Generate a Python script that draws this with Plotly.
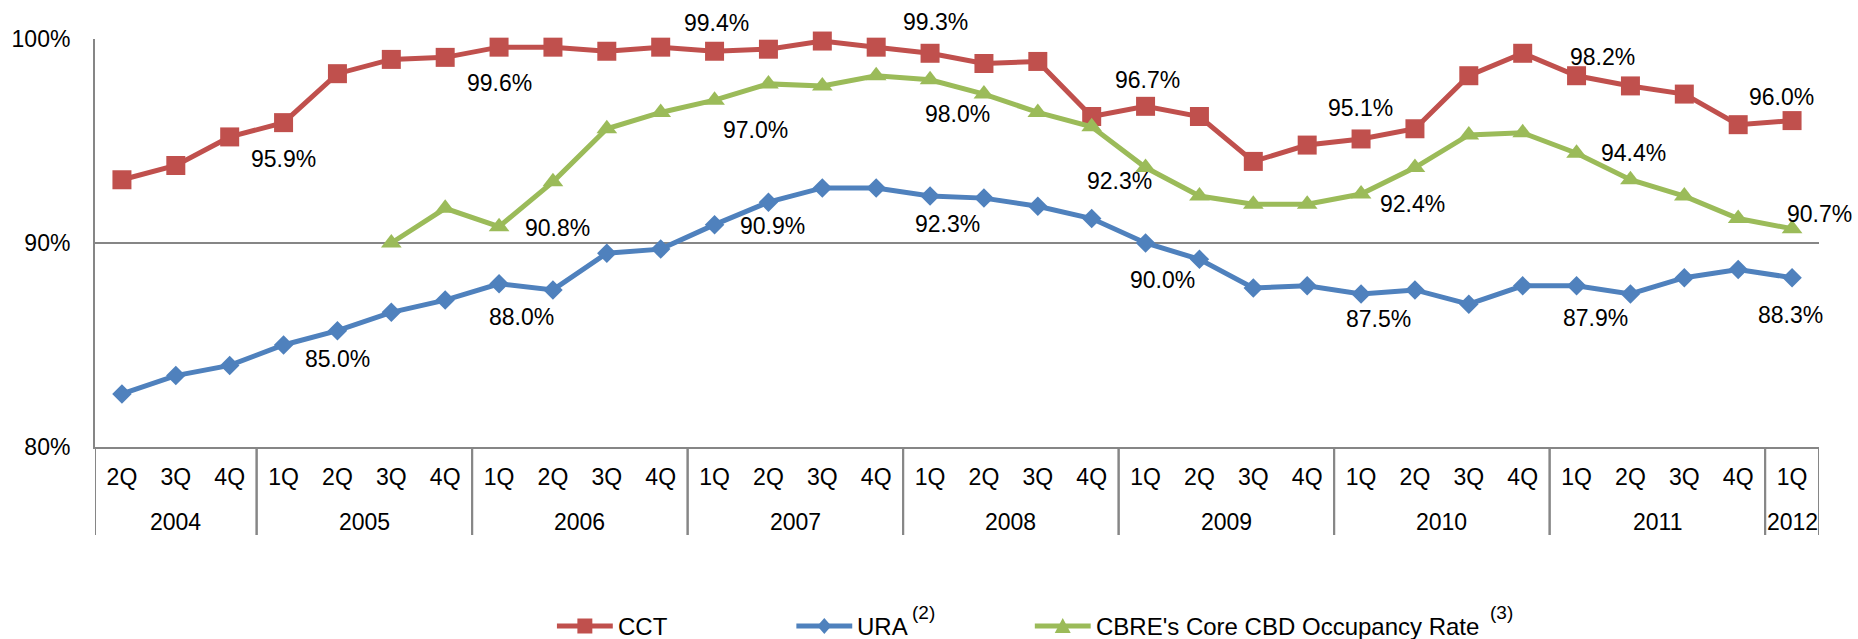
import plotly.graph_objects as go

# Quarter axis: 2Q 2004 through 1Q 2012
years = ["2004"] * 3 + [y for y in ["2005", "2006", "2007", "2008", "2009", "2010", "2011"] for _ in range(4)] + ["2012"]
quarters = ["2Q", "3Q", "4Q"] + ["1Q", "2Q", "3Q", "4Q"] * 7 + ["1Q"]

# Occupancy rates (%)
cct = [93.1, 93.8, 95.2,
       95.9, 98.3, 99.0, 99.1,
       99.6, 99.6, 99.4, 99.6,
       99.4, 99.5, 99.9, 99.6,
       99.3, 98.8, 98.9, 96.2,
       96.7, 96.2, 94.0, 94.8,
       95.1, 95.6, 98.2, 99.3,
       98.2, 97.7, 97.3, 95.8,
       96.0]
ura = [82.6, 83.5, 84.0,
       85.0, 85.7, 86.6, 87.2,
       88.0, 87.7, 89.5, 89.7,
       90.9, 92.0, 92.7, 92.7,
       92.3, 92.2, 91.8, 91.2,
       90.0, 89.2, 87.8, 87.9,
       87.5, 87.7, 87.0, 87.9,
       87.9, 87.5, 88.3, 88.7,
       88.3]
cbre = [None, None, None,
        None, None, 90.0, 91.7,
        90.8, 93.0, 95.6, 96.4,
        97.0, 97.8, 97.7, 98.2,
        98.0, 97.3, 96.4, 95.7,
        93.7, 92.3, 91.9, 91.9,
        92.4, 93.7, 95.3, 95.4,
        94.4, 93.1, 92.3, 91.2,
        90.7]

y_ticks = [80, 90, 100]
y_ticktext = ["80%", "90%", "100%"]

RED = "#C0504D"
BLUE = "#4F81BD"
GREEN = "#9BBB59"
GRID = "#868686"
FONT = "Liberation Sans, Arial, sans-serif"

W, H = 1858, 639
ML, MR, MT, MB = 91, 39, 39, 192
PW, PH = W - ML - MR, H - MT - MB

xpos = list(range(len(quarters)))

series = [
    dict(name="CCT", values=cct, color=RED, symbol="square", size=19),
    dict(name="URA", values=ura, color=BLUE, symbol="diamond", size=15),
    dict(name="CBRE", values=cbre, color=GREEN, symbol="triangle-up", size=18),
]

fig = go.Figure()
for s in series:
    fig.add_trace(go.Scatter(
        x=xpos, y=s["values"], mode="lines+markers", name=s["name"],
        customdata=[f"{q} {y}" for q, y in zip(quarters, years)],
        hovertemplate="%{customdata}: %{y:.1f}%<extra>" + s["name"] + "</extra>",
        line=dict(color=s["color"], width=5),
        marker=dict(symbol=s["symbol"], size=s["size"], color=s["color"],
                    line=dict(width=0)),
        cliponaxis=False, showlegend=False, connectgaps=False,
    ))

# Data-label placement: category index -> pixel offset (dx right, dy down)
label_offsets = {
    "CCT": {3: (0, 36), 7: (0, 36), 11: (2, -28), 15: (5, -31), 19: (2, -26),
            23: (-1, -31), 27: (26, -19), 31: (-11, -24)},
    "URA": {3: (54, 14), 7: (22, 33), 11: (58, 1), 15: (17, 28), 19: (17, 37),
            23: (17, 25), 27: (19, 32), 31: (-2, 37)},
    "CBRE": {7: (58, 1), 11: (41, 30), 15: (27, 34), 20: (-80, -15), 23: (51, 10),
             27: (57, 0), 31: (27, -15)},
}

annotations = []
for s in series:
    for i, (dx, dy) in label_offsets[s["name"]].items():
        v = s["values"][i]
        annotations.append(dict(
            x=xpos[i], y=v, xref="x", yref="y", text=f"{v:.1f}%", showarrow=False,
            xanchor="center", yanchor="middle", xshift=dx, yshift=-dy,
            font=dict(family=FONT, size=23, color="black"),
        ))


def px_x(px):
    return (px - ML) / PW


def px_y(py):
    return (H - MB - py) / PH


# Year groups under the quarter labels, separated by vertical dividers
groups = []
for i, y in enumerate(years):
    if not groups or groups[-1][0] != y:
        groups.append([y, i, i])
    else:
        groups[-1][2] = i

shapes = []
DIV_BOTTOM = 535
YEAR_Y = 522
for name, first, last in groups:
    annotations.append(dict(
        x=(first + last) / 2, y=px_y(YEAR_Y), xref="x", yref="paper", text=name,
        showarrow=False, xanchor="center", yanchor="middle",
        font=dict(family=FONT, size=23, color="black"),
    ))
    for edge in (first - 0.5, last + 0.5):
        shapes.append(dict(type="line", xref="x", yref="paper",
                           x0=edge, x1=edge, y0=0, y1=px_y(DIV_BOTTOM),
                           line=dict(color=GRID, width=2)))

# Legend drawn below the axis: line segment with marker, label, footnote mark
legend_items = [
    dict(x0=554, text="CCT", note=None, note_x=None, color=RED, marker="square"),
    dict(x0=794, text="URA", note="(2)", note_x=908, color=BLUE, marker="diamond"),
    dict(x0=1033, text="CBRE's Core CBD Occupancy Rate", note="(3)", note_x=1487,
         color=GREEN, marker="triangle"),
]
LEG_Y = 626
NOTE_Y = 612
for it in legend_items:
    x0, x1 = it["x0"], it["x0"] + 56
    xc = (x0 + x1) / 2
    shapes.append(dict(type="line", xref="paper", yref="paper",
                       x0=px_x(x0), x1=px_x(x1), y0=px_y(LEG_Y), y1=px_y(LEG_Y),
                       line=dict(color=it["color"], width=5)))
    if it["marker"] == "square":
        pts = [(xc - 7.5, LEG_Y - 7.5), (xc + 7.5, LEG_Y - 7.5), (xc + 7.5, LEG_Y + 7.5), (xc - 7.5, LEG_Y + 7.5)]
    elif it["marker"] == "diamond":
        pts = [(xc, LEG_Y - 8), (xc + 7, LEG_Y), (xc, LEG_Y + 8), (xc - 7, LEG_Y)]
    else:
        pts = [(xc, LEG_Y - 8), (xc + 8, LEG_Y + 7), (xc - 8, LEG_Y + 7)]
    path = "M " + " L ".join(f"{px_x(a):.5f},{px_y(b):.5f}" for a, b in pts) + " Z"
    shapes.append(dict(type="path", xref="paper", yref="paper", path=path,
                       fillcolor=it["color"], line=dict(width=0)))
    annotations.append(dict(
        x=px_x(x1 + 3), y=px_y(LEG_Y), xref="paper", yref="paper", text=it["text"],
        showarrow=False, xanchor="left", yanchor="middle",
        font=dict(family=FONT, size=24, color="black"),
    ))
    if it["note"]:
        annotations.append(dict(
            x=px_x(it["note_x"]), y=px_y(NOTE_Y), xref="paper", yref="paper",
            text=it["note"], showarrow=False, xanchor="left", yanchor="middle",
            font=dict(family=FONT, size=19, color="black"),
        ))

fig.update_layout(
    width=W, height=H,
    margin=dict(l=ML, r=MR, t=MT, b=MB, pad=0),
    paper_bgcolor="white", plot_bgcolor="white",
    font=dict(family=FONT, size=23, color="black"),
    showlegend=False,
    annotations=annotations,
    shapes=shapes,
    xaxis=dict(
        range=[-0.5, len(quarters) - 0.5],
        tickmode="array", tickvals=xpos, ticktext=quarters,
        showline=True, linecolor=GRID, linewidth=2,
        showgrid=False, zeroline=False, ticks="",
        tickfont=dict(family=FONT, size=23, color="black"),
        ticklabelstandoff=8,
    ),
    yaxis=dict(
        range=[80, 100], tickvals=y_ticks, ticktext=y_ticktext,
        showline=True, linecolor=GRID, linewidth=2,
        showgrid=True, gridcolor=GRID, gridwidth=2, zeroline=False,
        ticks="", tickfont=dict(family=FONT, size=23, color="black"),
        ticklabelstandoff=18,
    ),
)

fig.write_html("out.html")
